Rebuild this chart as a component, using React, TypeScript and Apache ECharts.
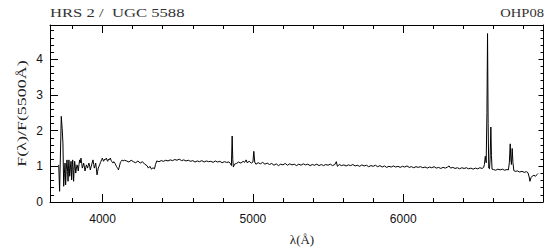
import React, { useEffect, useRef } from "react";
import * as echarts from "echarts";

// Spectrum of HRS 2 / UGC 5588 — wavelength (Å) and normalized flux F(λ)/F(5500Å)
const blueWl = [
  3708, 3714, 3725, 3731, 3736, 3741, 3746, 3750, 3754, 3758, 3763, 3767, 3770, 3773, 3776, 3781, 3786, 3790, 3794, 3798,
  3801, 3804, 3807, 3810, 3814, 3818, 3821, 3826, 3830, 3834, 3838, 3843, 3847, 3852, 3856, 3861, 3865, 3870, 3874, 3879,
  3883, 3888, 3892, 3896, 3900, 3905, 3909, 3914, 3918, 3923, 3927, 3932, 3936, 3941, 3945, 3950, 3954, 3959, 3963, 3967,
  3971, 3976, 3980, 3985, 3989, 3994, 3998, 4003, 4007, 4012, 4016, 4021, 4025, 4030, 4034, 4039, 4043, 4047, 4051, 4056,
  4060, 4065, 4069, 4074, 4078, 4083, 4087, 4092, 4096, 4101, 4105, 4110, 4114, 4118, 4122, 4127, 4131, 4136, 4140, 4145, 4149,
];
const blueFlux = [
  1.04, 0.30, 2.40, 2.05, 1.65, 0.44, 0.80, 1.09, 0.48, 0.90, 1.18, 0.85, 0.58, 0.95, 1.18, 0.72, 0.98, 1.14, 0.62, 1.00,
  1.18, 0.90, 0.58, 0.88, 1.14, 1.00, 0.81, 0.95, 1.04, 0.98, 0.87, 1.05, 1.18, 1.10, 1.23, 1.08, 0.95, 1.02, 1.09, 0.98,
  0.87, 0.96, 1.04, 1.00, 0.95, 1.03, 1.09, 1.00, 0.90, 0.98, 1.04, 1.12, 1.18, 1.05, 0.95, 1.02, 1.09, 0.92, 0.76, 0.86,
  0.95, 1.00, 1.04, 1.10, 1.14, 1.19, 1.23, 1.17, 1.14, 1.20, 1.18, 1.21, 1.23, 1.17, 1.14, 1.20, 1.18, 1.21, 1.23, 1.17,
  1.14, 1.11, 1.09, 1.13, 1.14, 1.08, 1.04, 1.00, 0.97, 0.94, 0.90, 0.97, 1.04, 1.10, 1.14, 1.16, 1.18, 1.15, 1.14, 1.17, 1.18,
];

const greenWl = [
  4160, 4175, 4190, 4205, 4220, 4235, 4250, 4265, 4280, 4295, 4305, 4315, 4325, 4335, 4345, 4352, 4360, 4375, 4390, 4405,
  4420, 4435, 4450, 4465, 4480, 4495, 4510, 4525, 4540, 4555, 4570, 4585, 4600, 4615, 4630, 4645, 4660, 4675, 4690, 4705,
  4720, 4735, 4750, 4765, 4780, 4795, 4810, 4825, 4840, 4850, 4857, 4862, 4866, 4870, 4878, 4890, 4905, 4920, 4935, 4945,
  4955, 4962, 4975, 4990, 5000, 5006, 5012, 5020, 5035, 5050, 5065, 5080, 5095, 5110, 5125, 5140, 5155, 5170, 5185, 5200,
  5215, 5230, 5245, 5260, 5275, 5290, 5305, 5320, 5335, 5350, 5365, 5380, 5395, 5410, 5425, 5440, 5455,
];
const greenFlux = [
  1.15, 1.12, 1.17, 1.13, 1.10, 1.15, 1.09, 1.13, 1.06, 1.02, 0.95, 1.00, 0.92, 0.96, 0.93, 1.05, 1.15, 1.13, 1.16, 1.14,
  1.17, 1.15, 1.18, 1.16, 1.19, 1.17, 1.20, 1.16, 1.18, 1.15, 1.17, 1.14, 1.16, 1.12, 1.15, 1.13, 1.16, 1.12, 1.15, 1.13,
  1.14, 1.11, 1.15, 1.12, 1.14, 1.10, 1.13, 1.11, 1.12, 1.08, 1.02, 1.85, 1.20, 0.98, 1.06, 1.08, 1.12, 1.09, 1.14, 1.11,
  1.18, 1.10, 1.14, 1.09, 1.12, 1.42, 1.12, 1.06, 1.10, 1.07, 1.11, 1.06, 1.09, 1.05, 1.08, 1.03, 1.07, 1.02, 1.06, 1.04,
  1.08, 1.03, 1.07, 1.04, 1.06, 1.02, 1.06, 1.03, 1.07, 1.04, 1.06, 1.02, 1.05, 1.03, 1.06, 1.02, 1.05,
];

const redWl = [
  5470, 5485, 5500, 5515, 5530, 5545, 5555, 5562, 5575, 5590, 5605, 5620, 5635, 5650, 5665, 5680, 5695, 5710, 5725, 5740,
  5755, 5770, 5785, 5800, 5815, 5830, 5845, 5860, 5875, 5890, 5905, 5920, 5935, 5950, 5965, 5980, 5995, 6010, 6025, 6040,
  6055, 6070, 6085, 6100, 6115, 6130, 6145, 6160, 6175, 6190, 6205, 6220, 6235, 6250, 6265, 6280, 6295, 6305, 6315, 6330,
  6345, 6360, 6375, 6390, 6405, 6420, 6435, 6450, 6465, 6480, 6495, 6510, 6525, 6535, 6540, 6546, 6552, 6557, 6561, 6565,
  6569, 6574, 6578, 6583, 6587, 6591, 6600, 6615, 6630, 6645, 6660, 6675, 6690, 6700, 6706, 6712, 6716, 6720, 6725, 6730,
  6736, 6745, 6760, 6775, 6790, 6805, 6820, 6830, 6838, 6843, 6850, 6860, 6870, 6880, 6890, 6897,
];
const redFlux = [
  1.02, 1.05, 1.03, 1.06, 1.02, 1.05, 1.13, 1.00, 1.05, 1.02, 1.04, 1.01, 1.04, 1.02, 1.05, 1.01, 1.03, 1.00, 1.04, 1.01,
  1.03, 0.99, 1.02, 1.00, 1.03, 0.99, 1.02, 0.98, 1.01, 0.97, 1.00, 0.98, 1.01, 0.98, 1.00, 0.97, 1.00, 0.98, 1.01, 0.97,
  0.99, 0.96, 0.99, 0.97, 0.99, 0.96, 0.98, 0.95, 0.98, 0.96, 0.99, 0.95, 0.97, 0.94, 0.97, 0.95, 0.98, 1.01, 0.95, 0.97,
  0.94, 0.96, 0.93, 0.96, 0.94, 0.96, 0.93, 0.95, 0.92, 0.95, 0.93, 0.96, 0.94, 0.97, 1.05, 1.28, 1.10, 2.50, 4.72, 2.20,
  0.95, 0.93, 1.20, 2.10, 1.30, 0.92, 0.91, 0.89, 0.92, 0.90, 0.92, 0.89, 0.91, 0.90, 1.10, 1.63, 1.20, 1.05, 1.50, 1.10,
  0.88, 0.86, 0.87, 0.84, 0.86, 0.83, 0.85, 0.82, 0.70, 0.58, 0.68, 0.73, 0.75, 0.72, 0.77, 0.80,
];

const xMajorTicks = [4000, 5000, 6000];
const xMinorTicks = [3800, 4000, 4200, 4400, 4600, 4800, 5000, 5200, 5400, 5600, 5800, 6000, 6200, 6400, 6600, 6800];
const yMajorTicks = [0, 1, 2, 3, 4];
const yMinorTicks = [
  0.2, 0.4, 0.6, 0.8, 1.2, 1.4, 1.6, 1.8, 2.2, 2.4, 2.6, 2.8, 3.2, 3.4, 3.6, 3.8, 4.2, 4.4, 4.6, 4.8,
];

const titleLeft = "HRS 2 /\u00a0\u00a0UGC 5588";
const titleRight = "OHP08";
const xTitle = "λ(Å)";
const yTitle = "F(λ)/F(5500Å)";

const X_MIN = 3650;
const X_MAX = 6930;
const Y_MIN = 0;
const Y_MAX = 4.96;

export default function App() {
  const ref = useRef<HTMLDivElement>(null);

  useEffect(() => {
    if (!ref.current) return;
    const chart = echarts.init(ref.current, undefined, { renderer: "svg" });

    const wl = [...blueWl, ...greenWl, ...redWl];
    const fl = [...blueFlux, ...greenFlux, ...redFlux];
    const data = wl.map((w, i) => [w, fl[i]]);

    const labelFont = { fontFamily: "Liberation Sans", fontSize: 12, color: "#111" };
    const serif = "Liberation Serif";
    const fmt = (v: number) => String(v);

    const xAxisBase = (position: "top" | "bottom", values: number[], len: number, showLine: boolean, showLabel: boolean) => ({
      type: "value" as const,
      min: X_MIN,
      max: X_MAX,
      position,
      axisLine: { show: showLine, onZero: false, lineStyle: { color: "#000", width: 1 } },
      axisTick: { show: true, inside: true, length: len, customValues: values, lineStyle: { color: "#000", width: 1 } },
      axisLabel: showLabel ? { ...labelFont, margin: 11, customValues: values, formatter: fmt } : { show: false },
      splitLine: { show: false },
    });
    const yAxisBase = (position: "left" | "right", values: number[], len: number, showLine: boolean, showLabel: boolean) => ({
      type: "value" as const,
      min: Y_MIN,
      max: Y_MAX,
      position,
      axisLine: { show: showLine, onZero: false, lineStyle: { color: "#000", width: 1 } },
      axisTick: { show: true, inside: true, length: len, customValues: values, lineStyle: { color: "#000", width: 1 } },
      axisLabel: showLabel ? { ...labelFont, margin: 7, customValues: values, formatter: fmt } : { show: false },
      splitLine: { show: false },
    });

    chart.setOption({
      animation: false,
      grid: { left: 50, right: 5, top: 25, bottom: 49, containLabel: false },
      xAxis: [
        xAxisBase("bottom", xMajorTicks, 8, true, true),
        xAxisBase("bottom", xMinorTicks, 4, false, false),
        xAxisBase("top", xMajorTicks, 8, true, false),
        xAxisBase("top", xMinorTicks, 4, false, false),
      ],
      yAxis: [
        yAxisBase("left", yMajorTicks, 8, true, true),
        yAxisBase("left", yMinorTicks, 4, false, false),
        yAxisBase("right", yMajorTicks, 4.5, true, false),
        yAxisBase("right", yMinorTicks, 2.5, false, false),
      ],
      series: [
        {
          type: "line",
          xAxisIndex: 0,
          yAxisIndex: 0,
          data,
          showSymbol: false,
          silent: true,
          lineStyle: { color: "#000", width: 1 },
        },
      ],
      graphic: [
        {
          type: "text",
          x: 50,
          y: 13,
          scaleX: 1.28,
          style: { text: titleLeft, fontFamily: serif, fontSize: 13, fill: "#333", align: "left", verticalAlign: "middle" },
        },
        {
          type: "text",
          x: 544,
          y: 13,
          scaleX: 1.12,
          style: { text: titleRight, fontFamily: serif, fontSize: 13, fill: "#333", align: "right", verticalAlign: "middle" },
        },
        {
          type: "text",
          x: 302,
          y: 239,
          style: { text: xTitle, fontFamily: serif, fontSize: 13, fill: "#222", align: "center", verticalAlign: "middle" },
        },
        {
          type: "text",
          x: 21,
          y: 113.5,
          rotation: Math.PI / 2,
          scaleX: 1.38,
          style: { text: yTitle, fontFamily: serif, fontSize: 13, fill: "#222", align: "center", verticalAlign: "middle" },
        },
      ],
    });

    return () => chart.dispose();
  }, []);

  return (
    <div
      ref={ref}
      style={{ position: "fixed", left: 0, top: 0, width: 548, height: 251, background: "#fff" }}
    />
  );
}
